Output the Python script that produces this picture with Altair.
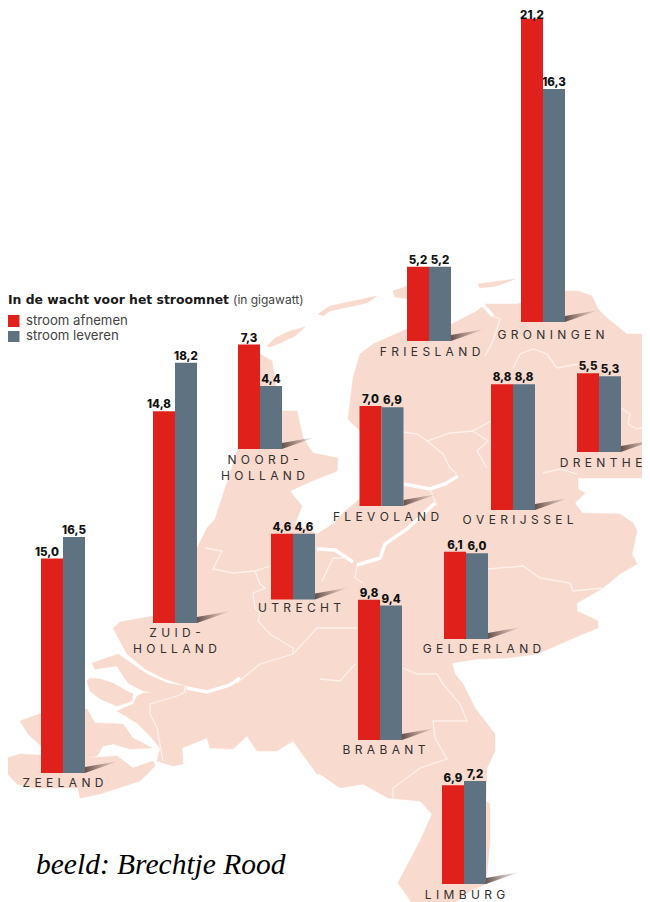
import altair as alt
import pandas as pd

# ---- values (gigawatt) ----
REGIONS = ["Zeeland", "Zuid-Holland", "Noord-Holland", "Friesland", "Groningen", "Flevoland",
           "Overijssel", "Drenthe", "Utrecht", "Gelderland", "Brabant", "Limburg"]
AFNEMEN = [15.0, 14.8, 7.3, 5.2, 21.2, 7.0, 8.8, 5.5, 4.6, 6.1, 9.8, 6.9]
LEVEREN = [16.5, 18.2, 4.4, 5.2, 16.3, 6.9, 8.8, 5.3, 4.6, 6.0, 9.4, 7.2]

# ---- where each region sits on the map (reference pixels) ----
ANCHOR_X = [63, 175, 260, 429, 543, 381.5, 513, 599, 293, 466, 380, 464]
BASE_Y = [772, 622, 448, 340, 321, 505, 509, 451, 598.5, 638, 739, 883]
LABEL_NUDGE_A = [-5, -5, 0, 0, 0, 0, 0, 0, 0, 0, 0, 0]
LABEL_GAP_A = [3, 3, 3, 3, 0, 3, 3, 3, 3, 3, 3, 3]

NAME_LINES = [
    ("ZEELAND", 63, 782), ("ZUID-", 175, 632), ("HOLLAND", 175, 647.5), ("NOORD-", 263, 459),
    ("HOLLAND", 263, 474.5), ("FRIESLAND", 430, 351), ("GRONINGEN", 551, 334), ("DRENTHE", 601, 462),
    ("FLEVOLAND", 386, 516), ("OVERIJSSEL", 518, 519), ("UTRECHT", 299.5, 607),
    ("GELDERLAND", 482, 648), ("BRABANT", 384, 749), ("LIMBURG", 465, 894),
]

# ---- map outline ----
MAINLAND = [(238,350),(260,353),(272,360),(280,410),(297,410),(303,437),(313,452),(338,457),(337,470),
    (312,480),(290,490),(302,505),(295,523),(317,533),(333,523),(345,510),(360,498),(360,430),(348,418),
    (353,377),(360,353),(373,343),(407,328),(452,323),(477,310),(485,303),(517,303),(521,302),(565,290),
    (578,290),(592,295),(598,308),(607,317),(627,333),(655,333),(655,477),(578,477),(578,488),(585,492),
    (575,502),(582,512),(620,513),(633,522),(637,530),(632,553),(637,563),(620,573),(603,587),(577,602),
    (577,610),(598,620),(598,627),(583,633),(560,643),(537,653),(507,657),(477,658),(452,662),(455,673),
    (463,683),(475,707),(495,733),(495,750),(487,767),(486,800),(490,803),(490,840),(486,883),(470,890),
    (455,902),(412,902),(398,882),(420,840),(432,813),(420,800),(388,797),(363,783),(340,787),(320,773),
    (317,773),(293,740),(277,750),(257,750),(247,735),(233,748),(210,747),(207,737),(182,747),(183,763),
    (173,765),(157,760),(160,747),(150,735),(137,722),(117,710),(133,703),(137,695),(143,692),(185,690),
    (187,685),(165,678),(145,668),(127,653),(113,627),(120,621),(153,615),(175,590),(197,563),(197,547),
    (207,527),(215,518),(238,448)]
ISLANDS = [
    [(267,345),(275,337),(290,330),(305,326),(295,335),(280,342),(270,346)],
    [(318,313),(330,305),(377,295),(367,302),(330,310),(323,315)],
    [(393,290),(410,284),(410,298),(395,296)],
    [(478,283),(515,278),(497,285),(480,287)],
    [(92,662),(118,653),(128,660),(147,673),(167,682),(185,685),(182,695),(143,690),(128,682),(120,670),(117,665),(95,668)],
    [(90,677),(100,678),(113,682),(127,690),(133,693),(132,700),(117,705),(100,698),(90,690),(87,680)],
    [(20,720),(42,712),(87,708),(95,722),(123,723),(133,737),(152,747),(130,748),(113,743),(103,745),(97,755),(85,757),(41,757),(41,745),(28,733)],
    [(7,757),(20,753),(87,757),(117,755),(133,767),(153,760),(155,765),(140,780),(100,793),(80,797),(78,787),(33,787),(17,783),(5,770)],
]
RIVERS = [
    [(482,303),(493,315)],
    [(404,483),(430,488),(445,483),(458,475)],
    [(435,502),(407,528),(385,543),(380,557),(357,564)],
    [(317,548),(335,549),(353,561)],
    [(187,687),(207,691),(230,684),(240,677)],
]
BORDERS = [
    [(493,315),(500,318),(493,340),(485,355)],
    [(513,367),(520,353),(533,348),(547,353),(557,367),(578,363)],
    [(621,407),(630,413),(628,423),(637,428),(650,424)],
    [(403,431),(418,433),(427,440),(450,432),(473,430),(491,420)],
    [(473,430),(488,440),(477,450),(487,467)],
    [(427,440),(443,453),(450,467),(457,473)],
    [(430,488),(437,505)],
    [(543,472),(560,468),(577,473)],
    [(357,564),(355,577),(363,582)],
    [(347,557),(333,557),(322,580)],
    [(205,547),(222,550),(213,568),(233,572),(255,570),(270,565)],
    [(255,570),(260,583),(265,587),(253,592),(255,607),(260,613),(258,620),(270,633),(293,647),(293,653)],
    [(293,653),(317,627),(357,627)],
    [(293,653),(260,663),(237,682)],
    [(320,678),(340,680),(355,663)],
    [(403,667),(417,673),(437,673),(443,683),(460,703),(467,720),(433,720),(435,737),(447,758),(420,767),(393,787),(393,797)],
    [(488,568),(523,565),(540,577),(570,582),(573,590),(603,587)],
    [(187,690),(177,695),(150,703),(150,713),(157,727),(163,760)],
]

PX_PER_GW = 14.3
BAR_W = 22
LAND = "#f8dacf"
RED = "#e0201b"
SLATE = "#5e7282"
TRACK = "\u2009\u2009"


def poly(rings):
    return [{"type": "Feature", "properties": {},
             "geometry": {"type": "Polygon", "coordinates": [[list(p) for p in r] + [list(r[0])]]}} for r in rings]


def lines(paths):
    return [{"type": "Feature", "properties": {},
             "geometry": {"type": "LineString", "coordinates": [list(p) for p in r]}} for r in paths]


proj = alt.Projection(type="identity", scale=1, translate=[-8, -7])
land = alt.Chart(alt.Data(values=poly([MAINLAND] + ISLANDS))).mark_geoshape(
    fill=LAND, stroke=LAND, strokeWidth=0.5).project(**proj.to_dict())
rivers = alt.Chart(alt.Data(values=lines(RIVERS))).mark_geoshape(
    filled=False, stroke="white", strokeWidth=3.5).project(**proj.to_dict())
borders = alt.Chart(alt.Data(values=lines(BORDERS))).mark_geoshape(
    filled=False, stroke="#fdf1ec", strokeWidth=1.3).project(**proj.to_dict())

xs = alt.Scale(domain=[8, 642], range=[0, 634], nice=False, zero=False)
ys = alt.Scale(domain=[901, 7], range=[894, 0], nice=False, zero=False)
X = alt.X("x:Q", scale=xs, axis=None)
Y = alt.Y("y:Q", scale=ys, axis=None)

rows = []
for i, r in enumerate(REGIONS):
    rows.append(dict(region=r, series="a", value=AFNEMEN[i], x0=ANCHOR_X[i] - BAR_W, x1=ANCHOR_X[i],
                     base=BASE_Y[i], nudge=LABEL_NUDGE_A[i], gap=LABEL_GAP_A[i]))
    rows.append(dict(region=r, series="l", value=LEVEREN[i], x0=ANCHOR_X[i], x1=ANCHOR_X[i] + BAR_W,
                     base=BASE_Y[i], nudge=0, gap=3))
bars_df = pd.DataFrame(rows)

shadow_rows = []
for i, r in enumerate(REGIONS):
    right = ANCHOR_X[i] + BAR_W
    shadow_rows.append(dict(region=r, x=right, y=BASE_Y[i], y2=BASE_Y[i] - 6))
    shadow_rows.append(dict(region=r, x=right + 34, y=BASE_Y[i] - 12, y2=BASE_Y[i] - 12))
shadows = alt.Chart(pd.DataFrame(shadow_rows)).mark_area(
    color=alt.LinearGradient(gradient="linear", x1=0, y1=0, x2=1, y2=0,
                             stops=[alt.GradientStop(offset=0, color="rgba(85,65,60,0.9)"),
                                    alt.GradientStop(offset=1, color="rgba(120,95,88,0)")]),
    orient="vertical", interpolate="linear").encode(
    x=X, y=Y, y2="y2:Q", detail="region:N")

base = alt.Chart(bars_df).transform_calculate(top="datum.base - datum.value * %s" % PX_PER_GW)
bars = base.mark_bar(stroke=None).encode(
    x=alt.X("x0:Q", scale=xs, axis=None), x2="x1:Q",
    y=alt.Y("top:Q", scale=ys, axis=None), y2="base:Q",
    color=alt.Color("series:N", scale=alt.Scale(domain=["a", "l"], range=[RED, SLATE]), legend=None),
)
value_labels = base.transform_calculate(
    cx="(datum.x0 + datum.x1) / 2 + datum.nudge",
    ly="datum.top - datum.gap",
    label="replace(format(datum.value, '.1f'), '.', ',')",
).mark_text(font="Inter", fontWeight=800, fontSize=11.5, color="#111111", baseline="alphabetic", align="center").encode(
    x=alt.X("cx:Q", scale=xs, axis=None), y=alt.Y("ly:Q", scale=ys, axis=None), text="label:N")

names_df = pd.DataFrame([dict(t=TRACK.join(n), x=x, y=y) for n, x, y in NAME_LINES])
names = alt.Chart(names_df).mark_text(font="Inter", fontSize=12, color="#33302e", baseline="middle", align="center").encode(
    x=X, y=Y, text="t:N")

# legend, drawn in place above the map
LEGEND_TITLE = "In de wacht voor het stroomnet"
LEGEND_UNIT = "(in gigawatt)"
LEGEND_ITEMS = ["stroom afnemen", "stroom leveren"]
title_a = alt.Chart(pd.DataFrame([dict(x=8, y=303, t=LEGEND_TITLE)])).mark_text(
    font="DejaVu Sans", fontWeight="bold", fontSize=12.4, color="#1a1a1a", align="left", baseline="alphabetic").encode(x=X, y=Y, text="t:N")
title_b = alt.Chart(pd.DataFrame([dict(x=233, y=303, t=LEGEND_UNIT)])).mark_text(
    font="Inter", fontSize=12, color="#444444", align="left", baseline="alphabetic").encode(x=X, y=Y, text="t:N")
sw_df = pd.DataFrame([dict(x0=8, x1=19.5, y0=314, y1=326, s="a"), dict(x0=8, x1=19.5, y0=330, y1=341, s="l")])
swatches = alt.Chart(sw_df).mark_rect().encode(
    x=alt.X("x0:Q", scale=xs, axis=None), x2="x1:Q",
    y=alt.Y("y0:Q", scale=ys, axis=None), y2="y1:Q",
    color=alt.Color("s:N", scale=alt.Scale(domain=["a", "l"], range=[RED, SLATE]), legend=None))
legend_text = alt.Chart(pd.DataFrame([dict(x=26, y=319.5, t=LEGEND_ITEMS[0]), dict(x=26, y=335, t=LEGEND_ITEMS[1])])).mark_text(
    font="Inter", fontSize=13.2, color="#444444", align="left", baseline="middle").encode(x=X, y=Y, text="t:N")

credit = alt.Chart(pd.DataFrame([dict(x=36, y=873, t="beeld: Brechtje Rood")])).mark_text(
    font="Liberation Serif", fontStyle="italic", fontSize=29.5, color="#000000", align="left", baseline="alphabetic").encode(x=X, y=Y, text="t:N")

chart = alt.layer(land, rivers, borders, shadows, bars, value_labels, names,
                  title_a, title_b, swatches, legend_text, credit).properties(
    width=634, height=894, padding=0, autosize=alt.AutoSizeParams(type="none"),
    background="white",
).configure_view(stroke=None)

chart.save("out.html", embed_options={"renderer": "svg", "actions": False})
